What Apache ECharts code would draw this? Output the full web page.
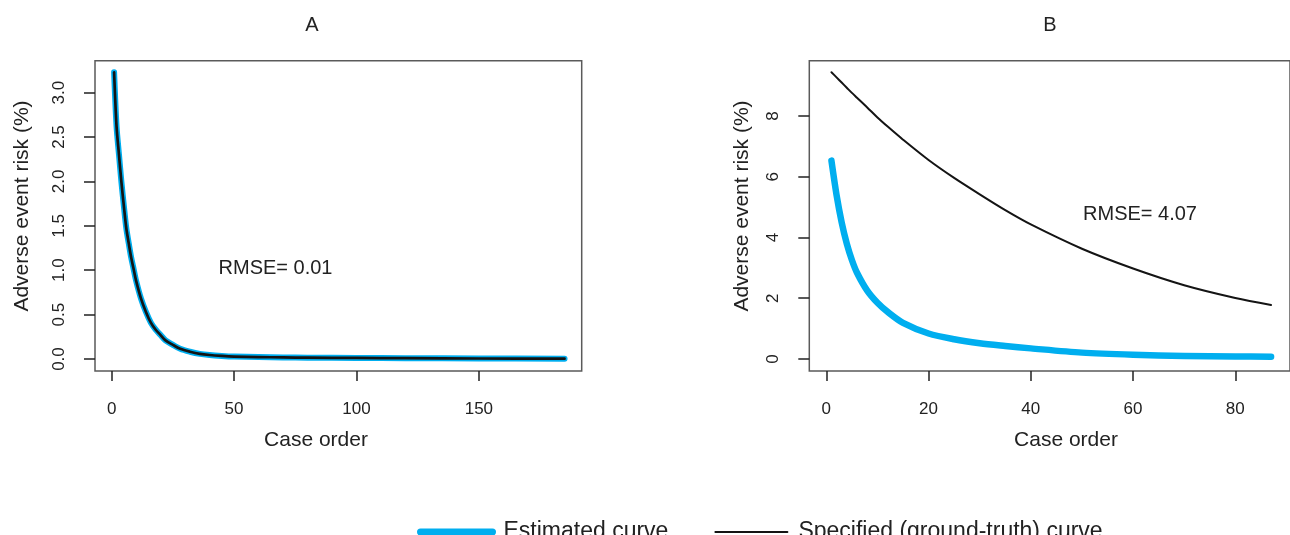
<!DOCTYPE html>
<html>
<head>
<meta charset="utf-8">
<script src="https://cdn.jsdelivr.net/npm/echarts@6/dist/echarts.min.js"></script>
<style>
html,body{margin:0;padding:0;background:#fff;}
#chart{width:1290px;height:535px;}
</style>
</head>
<body>
<div id="chart"></div>
<script>
// ---- Panel A data ----
const xA = [1,2,3,4,5,6,7,8,9,10,12,14,16,18,20,22,25,28,32,36,40,45,50,60,70,80,100,120,150,185];
const estA = [3.23,2.62,2.30,1.99,1.72,1.47,1.30,1.14,1.01,0.88,0.68,0.53,0.41,0.33,0.27,0.21,0.16,0.115,0.082,0.058,0.045,0.035,0.028,0.022,0.018,0.015,0.012,0.009,0.006,0.004];
const trueA = [3.23,2.62,2.30,1.99,1.72,1.47,1.30,1.14,1.01,0.88,0.68,0.53,0.41,0.33,0.27,0.21,0.16,0.115,0.082,0.058,0.045,0.035,0.028,0.022,0.018,0.015,0.012,0.009,0.006,0.004];
// ---- Panel B data ----
const xB = [1,2,3,4,5,6,8,10,12,15,20,25,30,35,40,50,60,70,80,87];
const estB = [6.53,5.40,4.50,3.80,3.26,2.84,2.25,1.85,1.55,1.19,0.84,0.65,0.52,0.43,0.35,0.21,0.14,0.10,0.085,0.077];
const trueB = [9.44,9.27,9.10,8.93,8.76,8.60,8.28,7.95,7.65,7.22,6.55,5.96,5.42,4.90,4.43,3.63,2.98,2.43,2.01,1.78];
// ---- ticks ----
const xTicksA = [0,50,100,150];
const yTicksA = [0,0.5,1,1.5,2,2.5,3];
const xTicksB = [0,20,40,60,80];
const yTicksB = [0,2,4,6,8];
const panelTitles = ['A','B'];
const rmseLabels = ['RMSE= 0.01','RMSE= 4.07'];
const xName = 'Case order';
const yName = 'Adverse event risk (%)';
const seriesNames = ['Estimated curve','Specified (ground-truth) curve'];

const FONT = '"Liberation Sans", Arial, Helvetica, sans-serif';
const TXT = '#222222';
const BLUE = '#00AEEF';
const BLACK = '#141414';

function pairs(xs, ys){ return xs.map((x,i)=>[x, ys[i]]); }

function xAxisCfg(grid, min, max, ticks){
  return {
    gridIndex: grid, type:'value', min:min, max:max, position:'bottom',
    axisLine:{show:false, onZero:false}, splitLine:{show:false},
    axisTick:{show:true, inside:false, length:10, customValues:ticks, lineStyle:{color:TXT, width:1.5}},
    axisLabel:{customValues:ticks, margin:30, fontSize:17, color:TXT, fontFamily:FONT}
  };
}
function yAxisCfg(grid, min, max, ticks, fmt){
  return {
    gridIndex: grid, type:'value', min:min, max:max, position:'left',
    axisLine:{show:false, onZero:false}, splitLine:{show:false},
    axisTick:{show:true, inside:false, length:11, customValues:ticks, lineStyle:{color:TXT, width:1.5}},
    axisLabel:{customValues:ticks, rotate:90, margin:27, fontSize:17, color:TXT, fontFamily:FONT, formatter:fmt}
  };
}
function txt(text, x, y, size, rot){
  return {type:'text', x:x, y:y, rotation: rot||0, silent:true,
    style:{text:text, x:0, y:0, fill:TXT, fontSize:size, fontFamily:FONT, align:'center', verticalAlign:'middle'}};
}

const chart = echarts.init(document.getElementById('chart'), null, {renderer:'canvas'});
const option = {
  animation:false,
  backgroundColor:'#ffffff',
  grid:[
    {left:95, top:60.7, width:486.7, height:310.3, show:true, borderColor:'#5a5a5a', borderWidth:1.5, backgroundColor:'transparent'},
    {left:809.3, top:60.7, width:490.6, height:310.3, show:true, borderColor:'#5a5a5a', borderWidth:1.5, backgroundColor:'transparent'}
  ],
  xAxis:[ xAxisCfg(0, -6.8, 192, xTicksA), xAxisCfg(1, -3.33, 90.7, xTicksB) ],
  yAxis:[ yAxisCfg(0, -0.135, 3.36, yTicksA, v=>Number(v).toFixed(1)), yAxisCfg(1, -0.395, 9.82, yTicksB, v=>String(v)) ],
  legend:{
    left:412, top:514, itemWidth:72, itemHeight:14, itemGap:46, selectedMode:false,
    textStyle:{fontSize:23, color:TXT, fontFamily:FONT, lineHeight:26, padding:[0,0,0,6]},
    data:[
      {name:seriesNames[0], itemStyle:{opacity:0}, lineStyle:{width:7, color:BLUE, cap:'round'}},
      {name:seriesNames[1], itemStyle:{opacity:0}, lineStyle:{width:2, color:BLACK}}
    ]
  },
  series:[
    {type:'line', name:seriesNames[0], xAxisIndex:0, yAxisIndex:0, data:pairs(xA, estA), symbol:'none', smooth:0.3, lineStyle:{color:BLUE, width:6, cap:'round', join:'round'}, itemStyle:{color:BLUE}, z:2},
    {type:'line', name:seriesNames[1], xAxisIndex:0, yAxisIndex:0, data:pairs(xA, trueA), symbol:'none', smooth:0.3, lineStyle:{color:BLACK, width:2.7, cap:'round', join:'round'}, itemStyle:{color:BLACK}, z:3},
    {type:'line', name:seriesNames[0], xAxisIndex:1, yAxisIndex:1, data:pairs(xB, estB), symbol:'none', smooth:0.3, lineStyle:{color:BLUE, width:6.5, cap:'round', join:'round'}, itemStyle:{color:BLUE}, z:2},
    {type:'line', name:seriesNames[1], xAxisIndex:1, yAxisIndex:1, data:pairs(xB, trueB), symbol:'none', smooth:0.3, lineStyle:{color:BLACK, width:2, cap:'round', join:'round'}, itemStyle:{color:BLACK}, z:3}
  ],
  graphic:[
    txt(panelTitles[0], 312, 25, 20),
    txt(panelTitles[1], 1050, 25, 20),
    txt(xName, 316, 440, 21),
    txt(xName, 1066, 440, 21),
    txt(yName, 22, 206, 21, Math.PI/2),
    txt(yName, 742, 206, 21, Math.PI/2),
    txt(rmseLabels[0], 275.5, 268, 20),
    txt(rmseLabels[1], 1140, 214, 20)
  ]
};
chart.setOption(option);
</script>
</body>
</html>
